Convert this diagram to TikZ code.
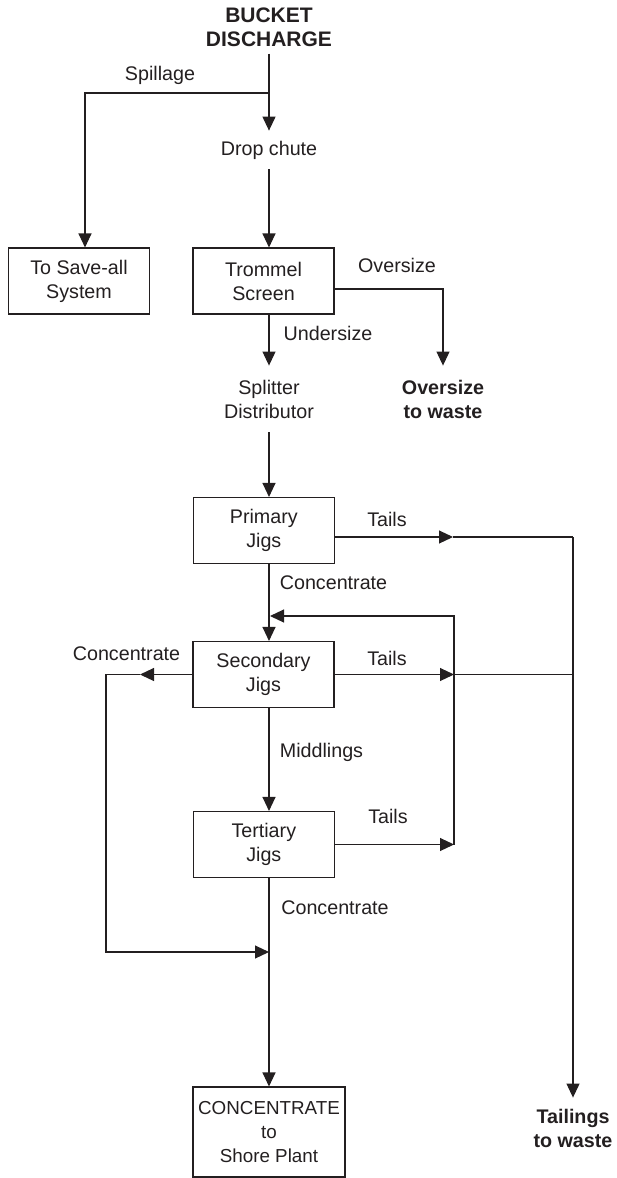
\documentclass[tikz,border=0pt]{standalone}
\usepackage{fontspec}
\setmainfont{Liberation Sans}
\usetikzlibrary{arrows.meta}
\definecolor{ink}{RGB}{35,31,32}

\begin{document}
\begin{tikzpicture}[x=1pt,y=1pt,yscale=-1,xscale=1,
	every node/.style={text=ink},
	unit/.style={draw=ink, line width=1.1pt, minimum width=141pt, minimum height=66pt, inner sep=0pt, align=center, font=\fontsize{19.7}{24}\selectfont},
	lbl/.style={inner sep=0pt, font=\fontsize{19.7}{24}\selectfont},
	feed/.style={align=center, inner xsep=0pt, font=\fontsize{19.7}{24}\selectfont},
	sink/.style={align=center, inner xsep=0pt, font=\fontsize{19.7}{24}\selectfont\bfseries},
	flow/.style={draw=ink, line width=1.1pt, -{Triangle[length=14pt,width=13pt]}},
	pipe/.style={draw=ink, line width=1.1pt}]
	\useasboundingbox (0,0) rectangle (617,1178);
	
	%Shape: Rectangle
	\node[unit] (saveall) at (79,281) {To Save-all\\System};
	\node[unit] (trommel) at (263.5,281) {Trommel\\Screen};
	\node[unit] (primary) at (263.8,530.5) {Primary\\Jigs};
	\node[unit] (secondary) at (263.5,674.5) {Secondary\\Jigs};
	\node[unit] (tertiary) at (263.8,844.5) {Tertiary\\Jigs};
	\node[unit, minimum width=152pt, minimum height=90pt, font=\fontsize{18.8}{24}\selectfont] (conc) at (269,1132) {CONCENTRATE\\to\\Shore Plant};
	
	% Text Node
	\node[sink, font=\fontsize{21}{24}\selectfont\bfseries, inner ysep=7pt] (bucket) at (269,27) {BUCKET\\DISCHARGE};
	\node[feed, inner ysep=10pt] (drop) at (269,150) {Drop chute};
	\node[feed, inner ysep=14pt] (split) at (269,399) {Splitter\\Distributor};
	\node[sink, inner ysep=14pt] (owaste) at (443,399) {Oversize\\to waste};
	\node[sink, inner ysep=11pt] (tailings) at (573,1128) {Tailings\\to waste};
	
	% junctions
	\coordinate (spill) at (269,93);
	\coordinate (spillL) at (85,93);
	\coordinate (ov) at (443,289);
	\coordinate (t1) at (453,537);
	\coordinate (r1) at (573,537);
	\coordinate (recyT) at (454,616);
	\coordinate (recy) at (270,616);
	\coordinate (cl) at (140,676);
	\coordinate (cc) at (106,952);
	\coordinate (cj) at (269,952);
	
	%Straight Lines
	\draw[flow] (bucket) -- (drop);
	\draw[flow] (spill) -| (saveall.north -| spillL);
	\draw[flow] (drop) -- (drop |- trommel.north);
	\draw[flow] (trommel.east |- ov) -| (owaste);
	\draw[flow] (trommel.south -| split) -- (split);
	\draw[flow] (split) -- (split |- primary.north);
	%Straight Lines
	\draw[flow] (primary.east |- t1) -- (t1);
	\draw[pipe] (t1) -- (r1);
	\draw[flow] (r1) -- (tailings);
	\draw[flow] (primary.south -| split) -- (split |- secondary.north);
	%Straight Lines
	\draw[flow] (secondary.east) -- (secondary.east -| recyT);
	\draw[pipe] (secondary.east -| recyT) -- (secondary.east -| r1);
	\draw[flow] (secondary.west) -- (secondary.west -| cl);
	\draw[flow] (secondary.west -| cl) -- (secondary.west -| cc) |- (cj);
	\draw[flow] (secondary.south -| split) -- (split |- tertiary.north);
	%Straight Lines
	\draw[flow] (tertiary.east) -- (tertiary.east -| recyT);
	\draw[flow] (tertiary.east -| recyT) -- (recyT) -- (recy);
	\draw[flow] (tertiary.south -| split) -- (conc);
	
	% Text Node
	\node[lbl, anchor=base] (lspill) at (160,80) {Spillage};
	\node[lbl, anchor=base] (lover) at (397,272) {Oversize};
	\node[lbl, anchor=base] (lunder) at (328,340) {Undersize};
	\node[lbl, anchor=base] (ltail1) at (387,526) {Tails};
	\node[lbl, anchor=base] (lconc1) at (333.5,589) {Concentrate};
	\node[lbl, anchor=base] (lconc2) at (126.5,660) {Concentrate};
	\node[lbl, anchor=base] (ltail2) at (387,665) {Tails};
	\node[lbl, anchor=base] (lmid) at (321.5,757) {Middlings};
	\node[lbl, anchor=base] (ltail3) at (388,823) {Tails};
	\node[lbl, anchor=base] (lconc3) at (335,914) {Concentrate};
	
\end{tikzpicture}
\end{document}
